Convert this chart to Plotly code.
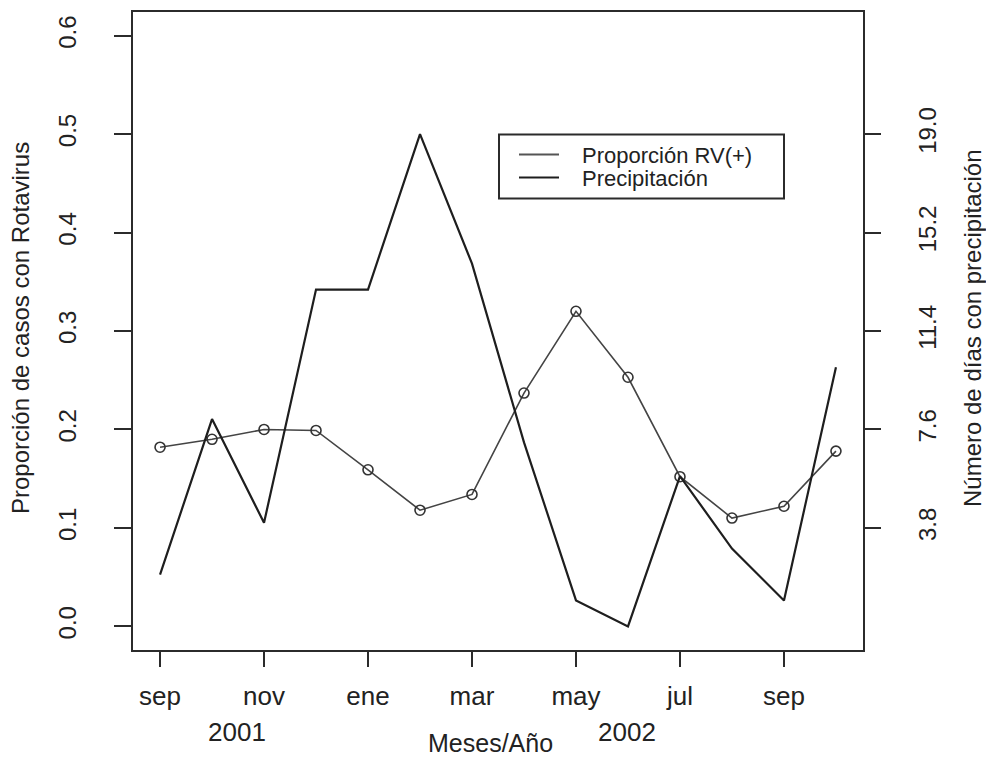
import plotly.graph_objects as go

# Monthly series, Sep 2001 - Oct 2002
months = ["sep 2001", "oct 2001", "nov 2001", "dic 2001", "ene 2002", "feb 2002", "mar 2002",
          "abr 2002", "may 2002", "jun 2002", "jul 2002", "ago 2002", "sep 2002", "oct 2002"]
prop_rv = [0.182, 0.190, 0.200, 0.199, 0.159, 0.118, 0.134,
           0.237, 0.320, 0.253, 0.152, 0.110, 0.122, 0.178]
dias_precip = [2, 8, 4, 13, 13, 19, 14, 7.1, 1, 0, 5.8, 3, 1, 10]

x_tick_idx = [0, 2, 4, 6, 8, 10, 12]
x_tick_text = ["sep", "nov", "ene", "mar", "may", "jul", "sep"]
y_left_ticks = [0.0, 0.1, 0.2, 0.3, 0.4, 0.5, 0.6]
y_right_ticks = [3.8, 7.6, 11.4, 15.2, 19.0]
ratio = 38.0  # days per unit of proportion on the secondary axis

W, H = 986, 760
ML, MR, MT, MB = 133, 123, 10, 110
PW, PH = W - ML - MR, H - MT - MB


def px(x):
    return (x - ML) / PW


def py(y):
    return 1 - (y - MT) / PH


FONT = "Liberation Sans, Arial, Helvetica, sans-serif"
INK = "#2b2b2b"
TXT = "#222222"

idx = list(range(len(months)))
y_lo, y_hi = -0.024, 0.624

fig = go.Figure()
fig.add_trace(go.Scatter(
    x=idx, y=prop_rv, mode="lines+markers", name="Proporción RV(+)",
    line=dict(color="#444444", width=1.6),
    marker=dict(symbol="circle-open", size=10, color="#333333", line=dict(width=1.6)),
    hovertext=months,
))
fig.add_trace(go.Scatter(
    x=idx, y=dias_precip, mode="lines", name="Precipitación", yaxis="y2",
    line=dict(color="#1e1e1e", width=2.2),
    hovertext=months,
))

fig.update_layout(
    width=W, height=H,
    margin=dict(l=ML, r=MR, t=MT, b=MB),
    paper_bgcolor="white", plot_bgcolor="white",
    showlegend=False,
    font=dict(family=FONT, color=TXT),
    xaxis=dict(
        range=[-0.52, 13.52], tickmode="array", tickvals=x_tick_idx, ticktext=x_tick_text,
        showgrid=False, zeroline=False, showline=True, mirror=True,
        linecolor=INK, linewidth=2, ticks="outside", ticklen=15, tickwidth=2, tickcolor=INK,
        tickfont=dict(size=26), ticklabelstandoff=7,
    ),
    yaxis=dict(
        range=[y_lo, y_hi], tickmode="array", tickvals=y_left_ticks,
        ticktext=[f"{v:.1f}" for v in y_left_ticks], tickangle=-90,
        showgrid=False, zeroline=False, showline=True, mirror=True,
        linecolor=INK, linewidth=2, ticks="outside", ticklen=17, tickwidth=2, tickcolor=INK,
        tickfont=dict(size=24), ticklabelstandoff=28,
    ),
    yaxis2=dict(
        range=[y_lo * ratio, y_hi * ratio], overlaying="y", side="right",
        tickmode="array", tickvals=y_right_ticks,
        ticktext=[f"{v:.1f}" for v in y_right_ticks], tickangle=-90,
        showgrid=False, zeroline=False, showline=False,
        ticks="outside", ticklen=17, tickwidth=2, tickcolor=INK,
        tickfont=dict(size=24), ticklabelstandoff=26,
    ),
)


def label(x, y, text, size, angle=0, xanchor="center"):
    fig.add_annotation(x=px(x), y=py(y), xref="paper", yref="paper", showarrow=False,
                       xanchor=xanchor, yanchor="middle", textangle=angle, text=text,
                       font=dict(size=size, family=FONT, color=TXT))


# Axis titles and year labels
label(20, 327, "Proporción de casos con Rotavirus", 24, angle=-90)
label(972, 327, "Número de días con precipitación", 24, angle=-90)
label(490, 743, "Meses/Año", 25)
label(237, 732, "2001", 26)
label(627, 732, "2002", 26)

# Legend box
fig.add_shape(type="rect", xref="paper", yref="paper",
              x0=px(499), x1=px(784), y0=py(133), y1=py(197),
              line=dict(color=INK, width=2), fillcolor="white")
fig.add_shape(type="line", xref="paper", yref="paper",
              x0=px(519), x1=px(559), y0=py(153), y1=py(153),
              line=dict(color="#555555", width=2))
fig.add_shape(type="line", xref="paper", yref="paper",
              x0=px(519), x1=px(559), y0=py(176), y1=py(176),
              line=dict(color="#1e1e1e", width=2.2))
label(580, 154, "Proporción RV(+)", 22, xanchor="left")
label(580, 177, "Precipitación", 22, xanchor="left")

fig.write_html("out.html")
